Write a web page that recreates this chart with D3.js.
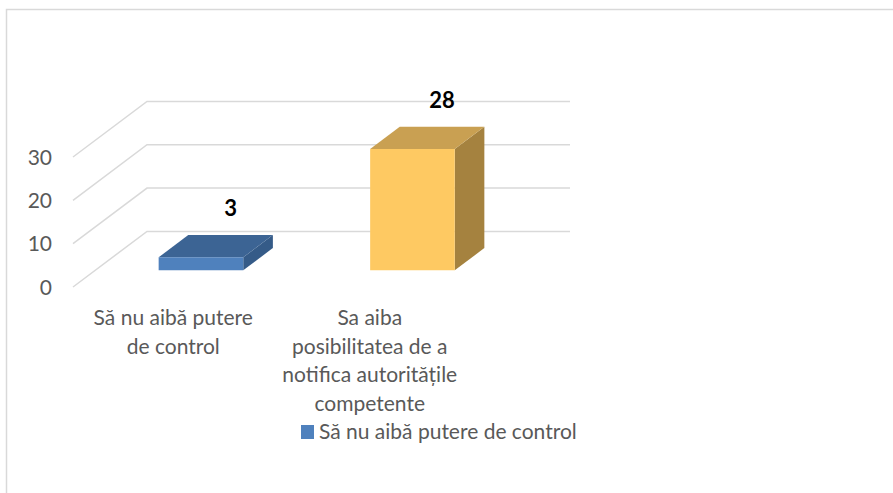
<!DOCTYPE html>
<html>
<head>
<meta charset="utf-8">
<script src="https://cdn.jsdelivr.net/npm/d3@7"></script>
<style>
  html, body { margin: 0; padding: 0; background: #fff; }
  svg text { font-family: Lato, "Open Sans", sans-serif; }
</style>
</head>
<body>
<div id="chart"></div>
<script>
(function(){
    // data
    var categories  = ['Să nu aibă putere de control', 'Sa aiba posibilitatea de a notifica autoritățile competente'];
    var catLines    = [['Să nu aibă putere', 'de control'], ['Sa aiba', 'posibilitatea de a', 'notifica autoritățile', 'competente']];
    var values      = [3, 28];
    var yTicks      = [0, 10, 20, 30];
    var legendLabel = 'Să nu aibă putere de control';

    var faceColors = [
        { front: '#4f81bd', top: '#3c6494', side: '#355b88' },
        { front: '#fec962', top: '#c9a052', side: '#a5823f' }
    ];

    var WIDTH   = 893,
        HEIGHT  = 493,

        FRONT_X = 73,       // front-left corner of the floor
        FRONT_Y = 287,
        DEPTH_X = 74,       // depth vector of the 3d box
        DEPTH_Y = -55.6,
        PLOT_W  = 423,
        PLOT_H  = 130,

        BAR_D0  = 0.3,      // bars start/end inside the depth
        BAR_D1  = 0.7;

    var svg = d3.select('#chart')
        .append('svg')
        .attr('width', WIDTH)
        .attr('height', HEIGHT);

    // chart frame
    svg.append('rect')
        .attr('x', 6.5).attr('y', 9.5)
        .attr('width', 1000).attr('height', 1000)
        .attr('fill', 'none')
        .attr('stroke', '#d9d9d9')
        .attr('stroke-width', 1.5);

    var x = d3.scaleBand().domain(categories).range([0, PLOT_W]);
    var y = d3.scaleLinear().domain([0, 30]).range([0, PLOT_H]);

    // project a point (px along x, value height, depth fraction)
    function P(px, h, d){
        return [FRONT_X + px + DEPTH_X * d, FRONT_Y - h + DEPTH_Y * d];
    }

    // gridlines: side wall diagonal + back wall horizontal
    var grid = svg.append('g').attr('class', 'grid')
        .attr('fill', 'none')
        .attr('stroke', '#d9d9d9')
        .attr('stroke-width', 1.5);

    yTicks.forEach(function(t){
        var a = P(0, y(t), 0), b = P(0, y(t), 1), c = P(PLOT_W, y(t), 1);
        grid.append('path').attr('d', d3.line()([a, b, c]));
    });

    // y tick labels
    svg.append('g').selectAll('text')
        .data(yTicks)
        .enter().append('text')
        .attr('x', 52)
        .attr('y', function(d){ return P(0, y(d), 0)[1]; })
        .attr('dy', '0.36em')
        .attr('text-anchor', 'end')
        .attr('font-size', 21)
        .attr('fill', '#595959')
        .text(function(d){ return d; });

    // bars
    var bw = x.bandwidth() * 0.4,
        bo = x.bandwidth() * 0.3;

    var bars = svg.append('g').attr('class', 'bars')
        .selectAll('g')
        .data(values)
        .enter().append('g');

    bars.each(function(v, i){
        var g  = d3.select(this),
            x0 = x(categories[i]) + bo,
            x1 = x0 + bw,
            h  = y(v),
            col = faceColors[i];

        var front = [P(x0, 0, BAR_D0), P(x1, 0, BAR_D0), P(x1, h, BAR_D0), P(x0, h, BAR_D0)];
        var top   = [P(x0, h, BAR_D0), P(x1, h, BAR_D0), P(x1, h, BAR_D1), P(x0, h, BAR_D1)];
        var side  = [P(x1, 0, BAR_D0), P(x1, 0, BAR_D1), P(x1, h, BAR_D1), P(x1, h, BAR_D0)];

        g.append('polygon').attr('points', side.join(' ')).attr('fill', col.side);
        g.append('polygon').attr('points', top.join(' ')).attr('fill', col.top);
        g.append('polygon').attr('points', front.join(' ')).attr('fill', col.front);

        // value label over the back of the top face
        var lp = P((x0 + x1) / 2, h, BAR_D1);
        g.append('text')
            .attr('x', lp[0])
            .attr('y', lp[1] - 19)
            .attr('text-anchor', 'middle')
            .attr('font-size', 22)
            .attr('font-weight', 'bold')
            .attr('fill', '#000')
            .text(v);
    });

    // category labels (wrapped)
    var xl = d3.scaleBand().domain(categories).range([75, 468]);

    svg.append('g').selectAll('text')
        .data(categories)
        .enter().append('text')
        .attr('text-anchor', 'middle')
        .attr('font-size', 21)
        .attr('fill', '#595959')
        .each(function(d, i){
            var t = d3.select(this);
            catLines[i].forEach(function(line, k){
                t.append('tspan')
                    .attr('x', xl(d) + xl.bandwidth() / 2)
                    .attr('y', 325 + k * 28.5)
                    .text(line);
            });
        });

    // legend
    var lg = svg.append('g').attr('transform', 'translate(301,425)');
    lg.append('rect')
        .attr('width', 13).attr('height', 14)
        .attr('fill', faceColors[0].front);
    lg.append('text')
        .attr('x', 18).attr('y', 14)
        .attr('font-size', 21)
        .attr('fill', '#595959')
        .text(legendLabel);
})();
</script>
</body>
</html>
